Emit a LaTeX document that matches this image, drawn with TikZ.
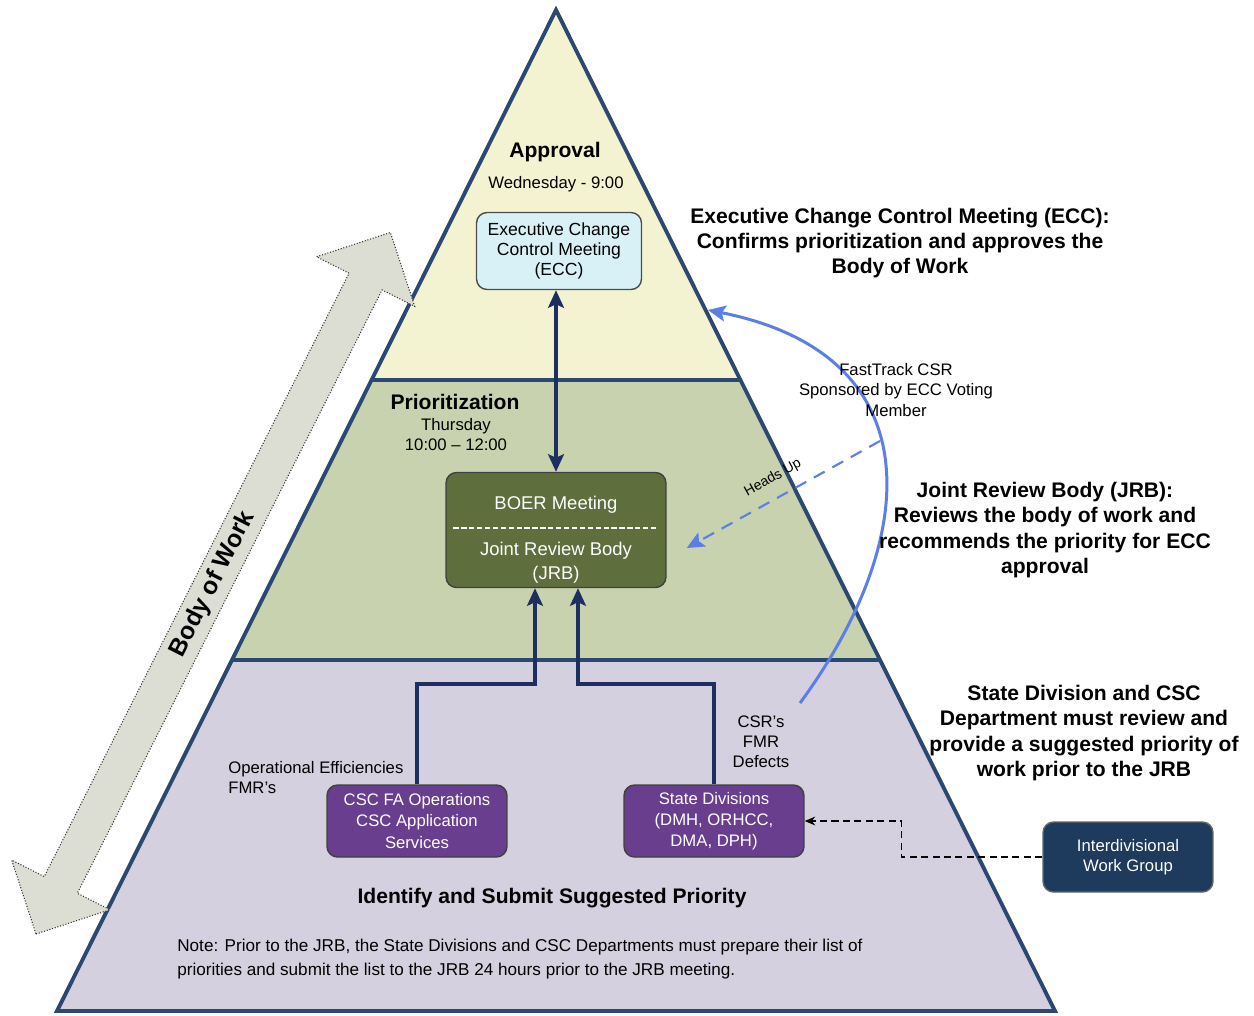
\documentclass[tikz,border=0pt]{standalone}
\usepackage{fontspec}
\setmainfont{Liberation Sans}
\usepackage{xcolor}
\definecolor{ColEdge}{RGB}{43,72,112}
\definecolor{ColTop}{RGB}{243,243,210}
\definecolor{ColMid}{RGB}{200,210,174}
\definecolor{ColLow}{RGB}{212,208,223}
\definecolor{ColEcc}{RGB}{216,241,246}
\definecolor{ColJrb}{RGB}{94,110,60}
\definecolor{ColDiv}{RGB}{106,62,142}
\definecolor{ColWork}{RGB}{30,58,92}
\definecolor{ColDark}{RGB}{28,47,94}
\definecolor{ColBlue}{RGB}{90,127,230}
\definecolor{ColArrow}{RGB}{220,222,211}
\usepackage{tikz}
\usetikzlibrary{arrows.meta}
\usetikzlibrary{calc}
\tikzstyle{Outline}=[draw=ColEdge,line width=2.2pt]
\tikzstyle{TierLine}=[draw=ColEdge,line width=1.8pt]
\tikzstyle{TierTitle}=[font=\fontsize{12}{14}\selectfont\bfseries]
\tikzstyle{SmallText}=[font=\fontsize{9.5}{11.4}\selectfont,align=center]
\tikzstyle{Label}=[font=\fontsize{9.5}{11.4}\selectfont,align=center,inner sep=0pt]
\tikzstyle{SideText}=[font=\fontsize{12}{14.3}\selectfont\bfseries,align=center]
\tikzstyle{Box}=[rounded corners=6pt,align=center,inner sep=2pt,
    line width=0.8pt]
\tikzstyle{EccBox}=[Box,fill=ColEcc,draw=black!70,minimum width=3.3cm,
    minimum height=1.54cm,font=\fontsize{10}{11.4}\selectfont]
\tikzstyle{JrbBox}=[Box,fill=ColJrb,draw=black!75,minimum width=4.4cm,
    minimum height=2.3cm]
\tikzstyle{BoxText}=[text=white,align=center,inner sep=0pt,
    font=\fontsize{10.5}{13.6}\selectfont]
\tikzstyle{DivBox}=[Box,fill=ColDiv,draw=black!75,text=white,
    minimum width=3.6cm,minimum height=1.44cm,
    font=\fontsize{9.5}{12}\selectfont]
\tikzstyle{WorkBox}=[Box,fill=ColWork,draw=black!60,text=white,
    minimum width=3.4cm,minimum height=1.4cm,
    font=\fontsize{9.5}{11.4}\selectfont]
\tikzstyle{Feed}=[draw=ColDark,line width=2.2pt,
    -{Stealth[length=10pt,width=9pt,inset=2pt]}]
\tikzstyle{BothWays}=[draw=ColDark,line width=2.2pt,
    {Stealth[length=10pt,width=9pt,inset=2pt]}-{Stealth[length=10pt,width=9pt,inset=2pt]}]
\tikzstyle{FastArrow}=[draw=ColBlue,line width=1.7pt,
    -{Stealth[length=10pt,width=9pt,inset=2pt]}]
\tikzstyle{HeadsUp}=[draw=ColBlue,line width=1.2pt,dash pattern=on 7pt off 5pt,
    -{Stealth[length=10pt,width=9pt,inset=2pt]}]
\tikzstyle{GroupLink}=[draw=black,line width=0.7pt,dash pattern=on 4pt off 2.5pt,
    -{Stealth[length=6pt,width=5pt]}]
\tikzstyle{BigArrow}=[fill=ColArrow,draw=black!80,densely dotted,line width=0.6pt]

\begin{document}
\begin{tikzpicture}[x=0.02cm,y=-0.02cm]
    \fill[white] (0,0) rectangle (1254,1015);
    \useasboundingbox (0,0) rectangle (1254,1015);
    % pyramid
    \coordinate (apex) at (556,10);
    \coordinate (bl) at (57,1011);
    \coordinate (br) at (1055,1011);
    \coordinate (l1) at ($(apex)!0.3696!(bl)$);
    \coordinate (r1) at ($(apex)!0.3696!(br)$);
    \coordinate (l2) at ($(apex)!0.6494!(bl)$);
    \coordinate (r2) at ($(apex)!0.6494!(br)$);
    \fill[ColTop] (apex)--(l1)--(r1)--cycle;
    \fill[ColMid] (l1)--(l2)--(r2)--(r1)--cycle;
    \fill[ColLow] (l2)--(bl)--(br)--(r2)--cycle;
    \draw[TierLine] (l1)--(r1);
    \draw[TierLine] (l2)--(r2);
    \draw[Outline] (apex)--(bl)--(br)--cycle;
    % body of work
    \begin{scope}[shift={(36,934)},rotate=63.2]
        \draw[BigArrow] (0,0)--(55,55)--(55,18.5)--(731,18.5)--(731,55)
            --(786,0)--(731,-55)--(731,-18.5)--(55,-18.5)--(55,-55)--cycle;
        \node[rotate=63.2,font=\fontsize{14}{16}\selectfont\bfseries]
            (bow) at (392,0) {Body of Work};
    \end{scope}
    % approval
    \node[TierTitle](approval) at (555,152) {Approval};
    \node[SmallText](wed) at (556,184) {Wednesday - 9:00};
    \node[EccBox](ecc) at (559,251) {Executive Change\\Control Meeting\\(ECC)};
    % prioritization
    \node[TierTitle](prio) at (455,402) {Prioritization};
    \node[SmallText](thu) at (456,435) {Thursday\\10:00 -- 12:00};
    \node[JrbBox](boer) at (556,530) {};
    \node[BoxText](boerA) at (556,505) {BOER Meeting};
    \node[BoxText](boerB) at (556,563) {Joint Review Body\\(JRB)};
    \draw[white,line width=0.7pt,dash pattern=on 3pt off 1.5pt]
        ($(boer.west)+(8,-2)$) -- ($(boer.east)+(-8,-2)$);
    % submit
    \node[DivBox](csc) at (417,821) {CSC FA Operations\\CSC Application\\Services};
    \node[DivBox](state) at (714,821) {State Divisions\\(DMH, ORHCC,\\DMA, DPH)};
    \node[WorkBox](idwg) at (1128,857) {Interdivisional\\Work Group};
    \node[Label,align=left,anchor=west](opeff) at (228,778)
        {Operational Efficiencies\\FMR's};
    \node[Label](csrs) at (761,742) {CSR's\\FMR\\Defects};
    \node[TierTitle](identify) at (552,898) {Identify and Submit Suggested Priority};
    \node[anchor=north west,align=left,inner sep=0pt,
        font=\fontsize{9.75}{13.6}\selectfont](note) at (177,939)
        {Note: Prior to the JRB, the State Divisions and CSC Departments must prepare their list of\\
        priorities and submit the list to the JRB 24 hours prior to the JRB meeting.};
    % connectors
    \draw[BothWays] (boer.north |- ecc.south) -- (boer.north);
    \draw[Feed] (csc.north) -- ++(0,-100) -| ($(boer.south)+(-21,0)$);
    \draw[Feed] (state.north) -- ++(0,-100) -| ($(boer.south)+(22,0)$);
    \draw[GroupLink] (idwg.west) -- ++(-141,0) |- (state.east);
    % fast track
    \coordinate (fstart) at (800,703);
    \coordinate (fend) at (708,310);
    \coordinate (hustart) at (880,441);
    \draw[FastArrow] (fstart) .. controls (920,540) and (935,355) .. (fend);
    \draw[HeadsUp] (hustart) -- ($(boer.east)+(20,18)$);
    \node[rotate=29,font=\fontsize{8}{9}\selectfont](headsup) at (773,478) {Heads Up};
    \node[Label](fast) at (896,390) {FastTrack CSR\\Sponsored by ECC Voting\\Member};
    % notes on the right
    \node[SideText](eccnote) at (900,243)
        {Executive Change Control Meeting (ECC):\\Confirms prioritization and approves the\\Body of Work};
    \node[SideText](jrbnote) at (1045,530)
        {Joint Review Body (JRB):\\Reviews the body of work and\\recommends the priority for ECC\\approval};
    \node[SideText](statenote) at (1084,733)
        {State Division and CSC\\Department must review and\\provide a suggested priority of\\work prior to the JRB};
\end{tikzpicture}
\end{document}
